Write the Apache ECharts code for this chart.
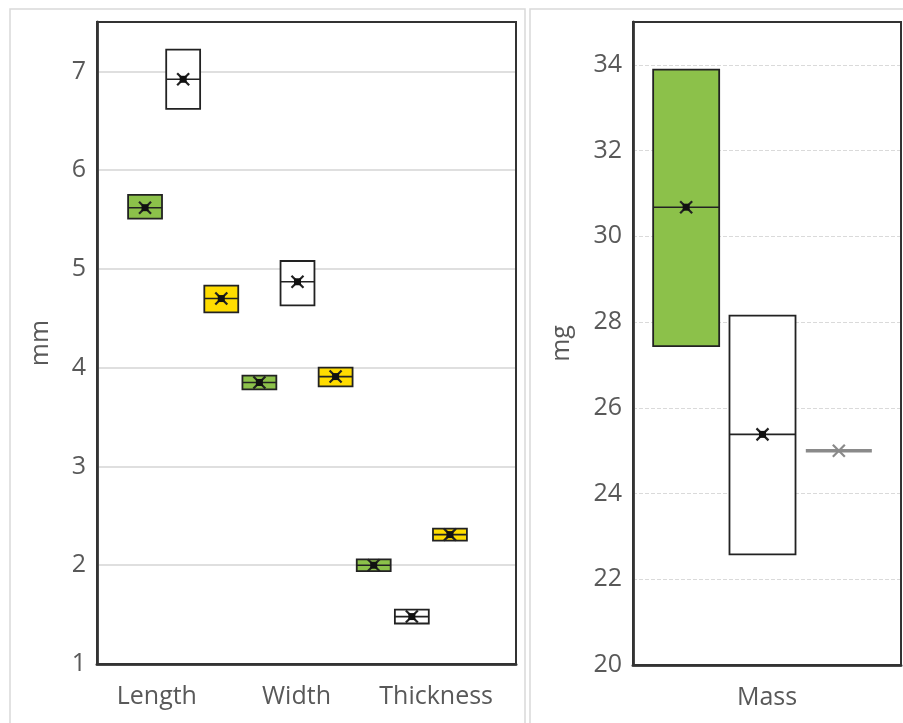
<!DOCTYPE html>
<html>
<head>
<meta charset="utf-8">
<script src="https://cdn.jsdelivr.net/npm/echarts@6/dist/echarts.min.js"></script>
<style>
html,body{margin:0;padding:0;background:#fff;}
#chart{width:903px;height:723px;}
</style>
</head>
<body>
<div id="chart"></div>
<script>
// ---- data ----
const dimCategories = ['Length', 'Width', 'Thickness'];
const massCategories = ['Mass'];

// Left panel (mm): green, white, yellow groups
const greenQ1 = [5.51, 3.78, 1.94];
const greenMedian = [5.62, 3.85, 2.00];
const greenQ3 = [5.75, 3.92, 2.06];
const greenMean = [5.62, 3.85, 2.00];

const whiteQ1 = [6.62, 4.63, 1.41];
const whiteMedian = [6.92, 4.87, 1.48];
const whiteQ3 = [7.22, 5.08, 1.55];
const whiteMean = [6.92, 4.87, 1.48];

const yellowQ1 = [4.56, 3.81, 2.25];
const yellowMedian = [4.70, 3.91, 2.31];
const yellowQ3 = [4.83, 4.00, 2.37];
const yellowMean = [4.70, 3.91, 2.31];

// Right panel (mg): green, white, yellow  -> q1, median, q3, mean
const massGreen = [27.44, 30.68, 33.89, 30.68];
const massWhite = [22.58, 25.38, 28.15, 25.38];
const massYellow = [25.0, 25.0, 25.0, 25.0];

const mmTicks = { min: 1, max: 7.5, interval: 1 };
const mgTicks = { min: 20, max: 35, interval: 2 };

// ---- helpers ----
const GREEN = '#8cc14a', WHITE = '#ffffff', YELLOW = '#ffdc00';
const TEXT = '#595959';
const FONT = 'Open Sans';
const FS = 25;

function buildRows(q1, med, q3, mean) {
  return q1.map((v, i) => [i, v, med[i], q3[i], mean[i]]);
}

function makeRender(seriesIdx, nSeries, boxFrac, fill) {
  return function (params, api) {
    const cat = api.value(0);
    const q1 = api.value(1), med = api.value(2), q3 = api.value(3), mean = api.value(4);
    const band = api.size([1, 0])[0];
    const slot = band / nSeries;
    const cx = api.coord([cat, med])[0] + (seriesIdx - (nSeries - 1) / 2) * slot;
    const w = slot * boxFrac;
    const yTop = api.coord([cat, q3])[1];
    const yBot = api.coord([cat, q1])[1];
    const yMed = api.coord([cat, med])[1];
    const yMean = api.coord([cat, mean])[1];
    const flat = Math.abs(yBot - yTop) < 0.5;
    const stroke = flat ? '#8a8a8a' : '#222222';
    const children = [];
    if (flat) {
      children.push({ type: 'line', shape: { x1: cx - w / 2, y1: yMed, x2: cx + w / 2, y2: yMed },
        style: { stroke: stroke, lineWidth: 3.5 } });
    } else {
      children.push({ type: 'rect', shape: { x: cx - w / 2, y: yTop, width: w, height: yBot - yTop },
        style: { fill: fill, stroke: stroke, lineWidth: 1.8 } });
      children.push({ type: 'line', shape: { x1: cx - w / 2, y1: yMed, x2: cx + w / 2, y2: yMed },
        style: { stroke: stroke, lineWidth: 1.6 } });
    }
    const r = 6;
    children.push({ type: 'line', shape: { x1: cx - r, y1: yMean - r, x2: cx + r, y2: yMean + r },
      style: { stroke: stroke, lineWidth: 2.2 } });
    children.push({ type: 'line', shape: { x1: cx - r, y1: yMean + r, x2: cx + r, y2: yMean - r },
      style: { stroke: stroke, lineWidth: 2.2 } });
    if (!flat) {
      children.push({ type: 'rect', shape: { x: cx - 3.5, y: yMean - 3.5, width: 7, height: 7 },
        style: { fill: '#111', stroke: null } });
    }
    return { type: 'group', children: children };
  };
}

function customSeries(data, seriesIdx, nSeries, boxFrac, fill, gridIdx) {
  return {
    type: 'custom',
    xAxisIndex: gridIdx, yAxisIndex: gridIdx,
    renderItem: makeRender(seriesIdx, nSeries, boxFrac, fill),
    encode: { x: 0, y: [1, 2, 3, 4] },
    data: data,
    silent: true,
    z: 5
  };
}

const chart = echarts.init(document.getElementById('chart'), null, { renderer: 'canvas' });

const yLabel = { color: TEXT, fontFamily: FONT, fontSize: FS, margin: 11, showMaxLabel: false };
const xLabel = { color: TEXT, fontFamily: FONT, fontSize: FS, margin: 20, padding: [0, 20, 0, 0], interval: 0, hideOverlap: false };
const frameLine = { show: true, lineStyle: { color: '#4a4a4a', width: 3 } };

const option = {
  animation: false,
  backgroundColor: '#ffffff',
  graphic: [
    { type: 'rect', shape: { x: 10, y: 9, width: 515, height: 730 }, style: { fill: null, stroke: '#d9d9d9', lineWidth: 1.5 }, silent: true, z: -10 },
    { type: 'rect', shape: { x: 530, y: 9, width: 390, height: 730 }, style: { fill: null, stroke: '#d9d9d9', lineWidth: 1.5 }, silent: true, z: -10 }
  ],
  grid: [
    { left: 97, top: 22, width: 419, height: 642, show: true, borderColor: '#333333', borderWidth: 2, backgroundColor: 'transparent', z: 3 },
    { left: 126, top: 22, width: 343, height: 642 },
    { left: 633, top: 22, width: 268, height: 643, show: true, borderColor: '#333333', borderWidth: 2, backgroundColor: 'transparent', z: 3 },
    { left: 648, top: 22, width: 229, height: 643 }
  ],
  xAxis: [
    { gridIndex: 0, type: 'category', data: dimCategories, axisLine: frameLine, axisTick: { show: false }, axisLabel: xLabel },
    { gridIndex: 1, type: 'category', data: dimCategories, show: false },
    { gridIndex: 2, type: 'category', data: massCategories, axisLine: frameLine, axisTick: { show: false },
      axisLabel: { color: TEXT, fontFamily: FONT, fontSize: FS, margin: 20, interval: 0 } },
    { gridIndex: 3, type: 'category', data: massCategories, show: false }
  ],
  yAxis: [
    { gridIndex: 0, type: 'value', min: mmTicks.min, max: mmTicks.max, interval: mmTicks.interval,
      name: 'mm', nameLocation: 'middle', nameGap: 44, nameRotate: 90,
      nameTextStyle: { color: TEXT, fontFamily: FONT, fontSize: FS },
      axisLine: frameLine, axisTick: { show: false }, axisLabel: yLabel,
      splitLine: { show: true, showMinLine: false, showMaxLine: false, lineStyle: { color: '#d4d4d4', width: 1.5 } } },
    { gridIndex: 1, type: 'value', min: mmTicks.min, max: mmTicks.max, show: false, splitLine: { show: false } },
    { gridIndex: 2, type: 'value', min: mgTicks.min, max: mgTicks.max, interval: mgTicks.interval,
      name: 'mg', nameLocation: 'middle', nameGap: 59, nameRotate: 90,
      nameTextStyle: { color: TEXT, fontFamily: FONT, fontSize: FS },
      axisLine: frameLine, axisTick: { show: false }, axisLabel: yLabel,
      splitLine: { show: true, showMinLine: false, showMaxLine: false, lineStyle: { color: '#dadada', width: 1.2, type: [4, 2] } } },
    { gridIndex: 3, type: 'value', min: mgTicks.min, max: mgTicks.max, show: false, splitLine: { show: false } }
  ],
  series: [
    customSeries(buildRows(greenQ1, greenMedian, greenQ3, greenMean), 0, 3, 0.89, GREEN, 1),
    customSeries(buildRows(whiteQ1, whiteMedian, whiteQ3, whiteMean), 1, 3, 0.89, WHITE, 1),
    customSeries(buildRows(yellowQ1, yellowMedian, yellowQ3, yellowMean), 2, 3, 0.89, YELLOW, 1),
    customSeries([[0].concat(massGreen)], 0, 3, 0.865, GREEN, 3),
    customSeries([[0].concat(massWhite)], 1, 3, 0.865, WHITE, 3),
    customSeries([[0].concat(massYellow)], 2, 3, 0.865, YELLOW, 3)
  ]
};
chart.setOption(option);
</script>
</body>
</html>
